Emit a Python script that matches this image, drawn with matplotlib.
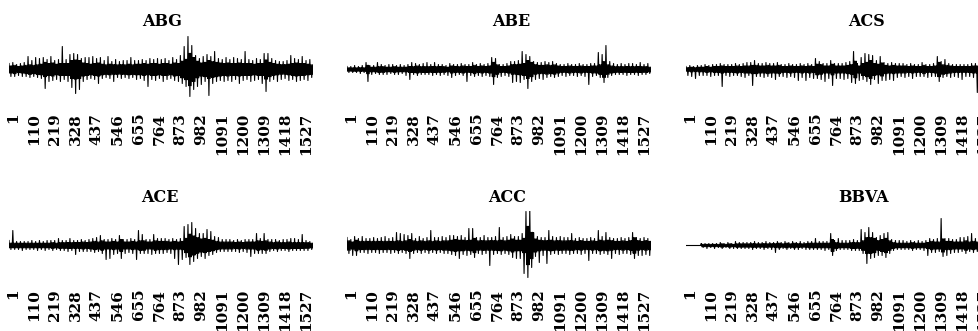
import numpy as np
import matplotlib
matplotlib.use("Agg")
import matplotlib.pyplot as plt
import matplotlib.transforms as mtransforms

# daily returns, read off the picture as the upper and lower swing in each
# of 80 consecutive windows (about 20 trading days each)
names = ["ABG", "ABE", "ACS", "ACE", "ACC", "BBVA"]

abg_up = [6, 7, 5, 6, 7, 13, 9, 12, 11, 12, 10, 13, 9, 10, 23, 10, 15, 16, 15, 11,
          12, 12, 13, 11, 12, 9, 13, 8, 10, 8, 9, 9, 12, 9, 9, 10, 9, 11, 10, 11,
          10, 11, 9, 12, 10, 14, 23, 33, 24, 14, 11, 13, 15, 13, 18, 11, 10, 12, 10, 12,
          11, 10, 18, 10, 9, 11, 10, 16, 16, 11, 9, 8, 8, 9, 14, 11, 10, 13, 9, 10]
abg_dn = [7, 7, 6, 7, 7, 8, 7, 8, 9, 19, 12, 11, 10, 12, 10, 12, 18, 24, 20, 12,
          10, 9, 10, 14, 9, 8, 9, 12, 8, 9, 8, 9, 8, 10, 9, 11, 17, 10, 11, 9,
          12, 10, 9, 11, 12, 14, 17, 27, 20, 17, 15, 12, 26, 14, 12, 11, 12, 11, 12, 10,
          14, 11, 10, 12, 11, 10, 14, 22, 12, 10, 12, 10, 9, 11, 10, 12, 11, 10, 11, 8]

abe_up = [3, 3, 4, 3, 4, 7, 4, 4, 7, 5, 4, 5, 5, 4, 5, 4, 5, 7, 6, 5,
          6, 7, 5, 7, 5, 5, 4, 6, 5, 5, 6, 5, 5, 7, 5, 6, 5, 6, 12, 11,
          5, 5, 6, 8, 8, 9, 18, 15, 13, 8, 7, 7, 8, 7, 8, 6, 5, 5, 6, 5,
          5, 6, 5, 5, 6, 6, 17, 15, 24, 8, 6, 5, 6, 5, 6, 6, 5, 7, 5, 6]
abe_dn = [3, 3, 3, 4, 3, 12, 5, 4, 5, 5, 5, 4, 5, 5, 4, 6, 10, 5, 6, 5,
          5, 5, 6, 5, 6, 5, 6, 8, 6, 5, 6, 12, 6, 7, 6, 7, 6, 7, 15, 8,
          7, 6, 7, 13, 12, 13, 10, 19, 12, 10, 9, 10, 8, 7, 8, 7, 6, 7, 6, 6,
          7, 6, 7, 15, 7, 6, 8, 13, 8, 6, 5, 5, 5, 6, 5, 5, 6, 5, 5, 4]

acs_up = [3, 4, 3, 4, 4, 5, 4, 5, 5, 6, 5, 5, 5, 6, 5, 6, 7, 7, 9, 6,
          6, 7, 6, 6, 7, 5, 5, 6, 5, 5, 6, 5, 6, 5, 11, 8, 6, 6, 9, 6,
          6, 6, 7, 8, 18, 6, 12, 16, 15, 14, 9, 13, 7, 6, 7, 6, 6, 6, 5, 6,
          5, 5, 7, 5, 5, 6, 13, 8, 10, 6, 5, 5, 5, 5, 5, 6, 6, 6, 5, 6]
acs_dn = [6, 7, 9, 6, 6, 6, 7, 6, 6, 17, 6, 7, 6, 6, 7, 8, 6, 16, 7, 7,
          8, 7, 8, 10, 7, 7, 8, 7, 8, 11, 8, 11, 8, 9, 9, 10, 12, 9, 16, 9,
          9, 10, 9, 13, 14, 11, 10, 12, 15, 10, 14, 11, 11, 10, 11, 8, 7, 8, 7, 9,
          7, 7, 7, 8, 7, 7, 12, 8, 7, 8, 7, 8, 10, 7, 7, 8, 23, 8, 7, 6]

ace_up = [5, 15, 4, 4, 4, 4, 5, 4, 5, 4, 5, 5, 5, 7, 5, 5, 7, 5, 5, 6,
          5, 6, 7, 8, 10, 6, 6, 7, 6, 10, 6, 6, 7, 6, 15, 11, 6, 6, 11, 7,
          7, 7, 6, 7, 6, 7, 19, 21, 23, 17, 12, 12, 16, 14, 9, 8, 6, 6, 6, 5,
          6, 5, 6, 6, 6, 12, 7, 12, 6, 6, 6, 5, 6, 6, 7, 7, 6, 11, 5, 4]
ace_dn = [4, 4, 4, 5, 4, 4, 4, 5, 4, 5, 4, 5, 4, 5, 5, 6, 5, 9, 6, 6,
          6, 6, 7, 6, 8, 14, 13, 9, 8, 13, 8, 7, 8, 14, 8, 8, 8, 9, 8, 8,
          8, 7, 8, 13, 19, 14, 12, 19, 16, 13, 11, 13, 10, 9, 7, 6, 6, 6, 6, 6,
          7, 6, 7, 11, 8, 8, 8, 8, 6, 5, 6, 5, 5, 6, 5, 5, 5, 5, 5, 4]

acc_up = [8, 6, 9, 7, 9, 7, 7, 8, 7, 8, 9, 7, 8, 13, 12, 11, 10, 12, 7, 9,
          7, 8, 15, 8, 8, 9, 8, 10, 10, 9, 10, 8, 17, 17, 8, 8, 10, 8, 8, 9,
          18, 8, 9, 11, 9, 9, 12, 34, 37, 13, 9, 8, 8, 15, 9, 8, 9, 8, 8, 12,
          7, 8, 7, 7, 8, 7, 15, 9, 13, 8, 7, 7, 8, 7, 8, 13, 8, 7, 8, 7]
acc_dn = [8, 10, 10, 7, 7, 8, 7, 7, 8, 7, 7, 8, 7, 8, 7, 8, 13, 8, 7, 8,
          7, 8, 7, 8, 7, 8, 8, 9, 10, 13, 9, 10, 9, 12, 8, 9, 8, 20, 9, 8,
          9, 8, 9, 12, 13, 13, 28, 32, 22, 11, 17, 10, 18, 9, 8, 9, 8, 8, 9, 8,
          8, 9, 8, 15, 8, 8, 9, 8, 9, 13, 8, 9, 8, 8, 9, 13, 10, 10, 9, 10]

bbva_up = [0, 0, 0, 0, 2, 2, 2, 2, 2, 3, 2, 3, 2, 4, 3, 3, 3, 3, 4, 3,
           3, 4, 3, 3, 4, 3, 4, 3, 4, 3, 4, 3, 4, 4, 7, 4, 4, 4, 12, 5,
           7, 5, 5, 5, 6, 5, 16, 13, 18, 13, 8, 10, 12, 13, 6, 5, 5, 5, 4, 5,
           4, 5, 4, 5, 7, 6, 7, 27, 7, 7, 6, 6, 8, 8, 9, 12, 7, 8, 6, 7]
bbva_dn = [0, 0, 0, 0, 2, 3, 2, 3, 2, 3, 2, 3, 3, 3, 3, 3, 3, 4, 3, 3,
           4, 3, 4, 7, 4, 3, 4, 3, 4, 4, 3, 4, 4, 4, 4, 4, 5, 4, 10, 5,
           4, 4, 4, 5, 5, 5, 8, 18, 13, 12, 10, 10, 12, 8, 5, 4, 4, 4, 4, 5,
           4, 4, 5, 10, 7, 7, 6, 11, 10, 8, 7, 7, 6, 8, 6, 7, 6, 6, 5, 6]

ups = [abg_up, abe_up, acs_up, ace_up, acc_up, bbva_up]
downs = [abg_dn, abe_dn, acs_dn, ace_dn, acc_dn, bbva_dn]

n_obs = 1584
tick_labels = [1, 110, 219, 328, 437, 546, 655, 764, 873, 982, 1091, 1200, 1309, 1418, 1527]

W, H = 979, 331
fig = plt.figure(figsize=(W / 100, H / 100), dpi=100)

lefts = [9, 347, 686]
centers = [69.5, 245.5]
title_x = [[162, 511, 867], [160, 507, 864]]
title_y = [21, 198]
half = 35

offset = mtransforms.ScaledTranslation(4 / 100, 0, fig.dpi_scale_trans)


def window_path(up, dn):
    # each window: its high, its low and the ordinary swings in between
    up = np.asarray(up, dtype=float)
    dn = np.asarray(dn, dtype=float)
    mid = 0.6 * np.minimum(up, dn)
    y = np.column_stack([up, -mid, mid, -dn, mid, -mid]).ravel()
    return y


for k, name in enumerate(names):
    r, c = divmod(k, 3)
    ax = fig.add_axes([lefts[c] / W, 1 - (centers[r] + half) / H, 304 / W, 2 * half / H])

    y = window_path(ups[k], downs[k])
    x = np.linspace(1, n_obs, y.size)

    ax.plot(x, y, color="black", lw=0.8)
    ax.set_xlim(1, n_obs)
    ax.set_ylim(-half, half)

    for s in ax.spines.values():
        s.set_visible(False)
    ax.set_yticks([])
    ax.set_xticks(tick_labels)
    ax.set_xticklabels([str(t) for t in tick_labels], rotation=90,
                       fontfamily="DejaVu Serif", fontweight="bold", fontsize=11)
    ax.tick_params(axis="x", length=0, pad=6)
    for lab in ax.get_xticklabels():
        lab.set_transform(lab.get_transform() + offset)

    fig.text(title_x[r][c] / W, 1 - title_y[r] / H, name, ha="center", va="center",
             fontfamily="DejaVu Serif", fontweight="bold", fontsize=11.5)

fig.savefig("out.png", dpi=100)
